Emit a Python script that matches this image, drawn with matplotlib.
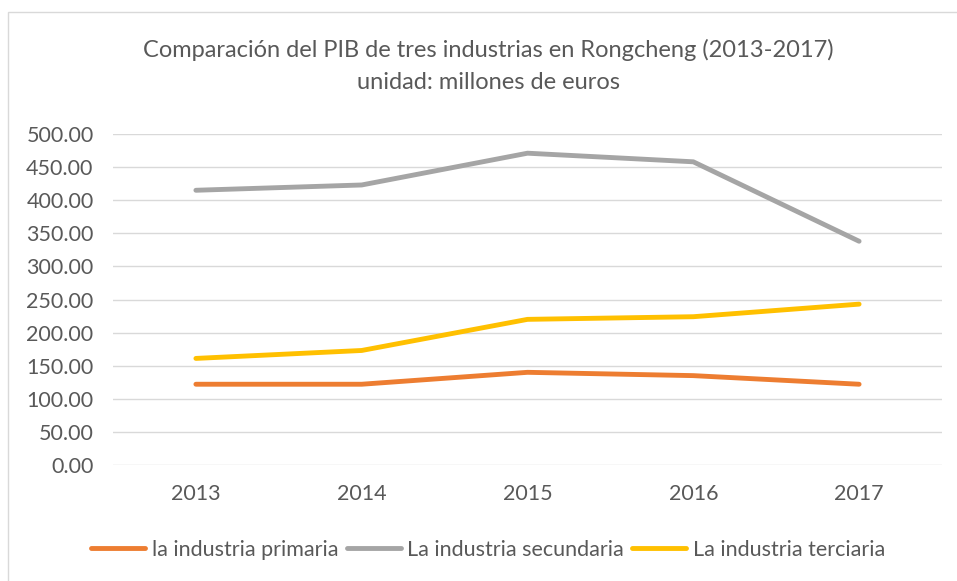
import matplotlib.pyplot as plt
from matplotlib.patches import Rectangle

# data
years = ["2013", "2014", "2015", "2016", "2017"]
primaria = [122, 122, 140, 135, 122]
secundaria = [415, 423, 471, 458, 338]
terciaria = [161, 173, 220, 224, 243]
yticks = [0, 50, 100, 150, 200, 250, 300, 350, 400, 450, 500]

plt.rcParams['font.family'] = ['Lato', 'DejaVu Sans']
txt = '#595959'

fig = plt.figure(figsize=(9.57, 5.81), dpi=100)
ax = fig.add_axes([113/957, 1-465/581, (942-113)/957, (465-134)/581])

# chart border
fig.patches.append(Rectangle((8/957, -0.1), 1.0, 1-12/581+0.1, transform=fig.transFigure,
                             fill=False, edgecolor='#d9d9d9', linewidth=1))

x = range(len(years))
ax.plot(x, primaria, color='#ED7D31', lw=3.5, solid_capstyle='round', label='la industria primaria')
ax.plot(x, secundaria, color='#A5A5A5', lw=3.5, solid_capstyle='round', label='La industria secundaria')
ax.plot(x, terciaria, color='#FFC000', lw=3.5, solid_capstyle='round', label='La industria terciaria')

ax.set_xlim(-0.5, len(years)-0.5)
ax.set_ylim(0, 500)
ax.set_yticks(yticks)
ax.set_yticklabels([f"{v:.2f}" for v in yticks])
ax.set_xticks(list(x))
ax.set_xticklabels(years)
ax.grid(axis='y', color='#d9d9d9', lw=1)
ax.set_axisbelow(True)
for s in ax.spines.values():
    s.set_visible(False)
ax.tick_params(length=0, labelsize=15.5, colors=txt, pad=14)
ax.tick_params(axis='x', pad=14)

fig.text(0.51, 1-50/581, "Comparación del PIB de tres industrias en Rongcheng (2013-2017)",
         ha='center', va='center', fontsize=17, color=txt)
fig.text(0.51, 1-83/581, "unidad: millones de euros",
         ha='center', va='center', fontsize=17, color=txt)

fig.legend(loc='center', bbox_to_anchor=(0.51, 1-550/581), ncol=3, frameon=False,
           fontsize=15.5, labelcolor=txt, handlelength=2.5, handletextpad=0.3, columnspacing=0.4)

fig.savefig("out.png", dpi=100)
